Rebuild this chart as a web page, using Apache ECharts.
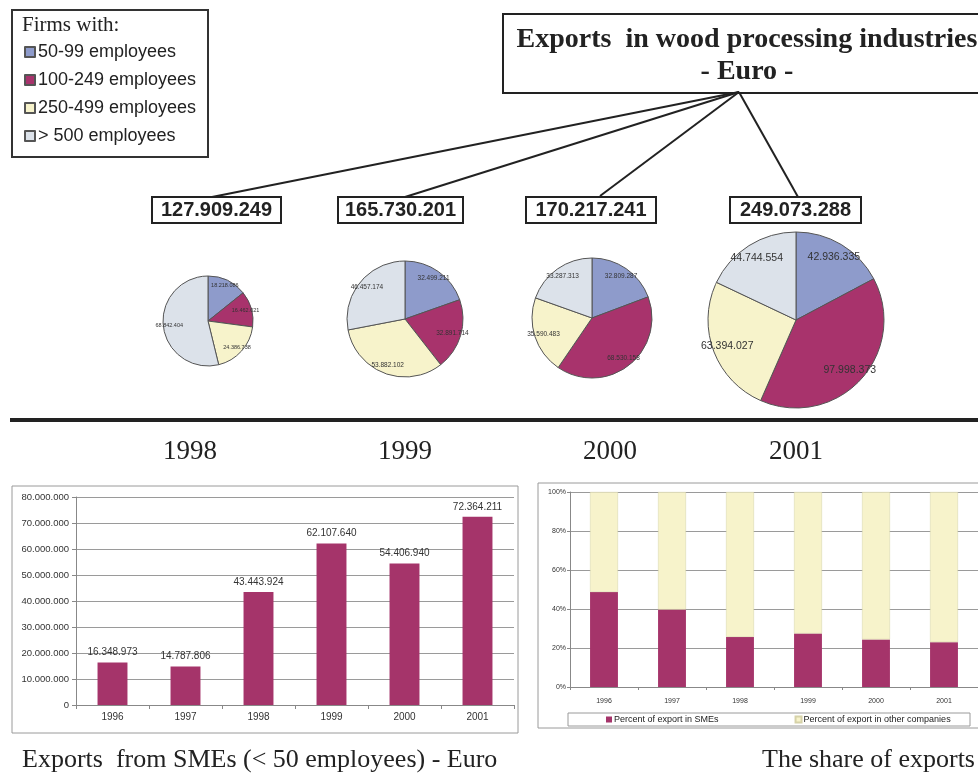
<!DOCTYPE html>
<html>
<head>
<meta charset="utf-8">
<script src="https://cdn.jsdelivr.net/npm/echarts@6/dist/echarts.min.js"></script>
<style>
html,body{margin:0;padding:0;background:#fff;}
#chart{width:978px;height:775px;}
</style>
</head>
<body>
<div id="chart"></div>
<script>
// ---------- data ----------
const sizeClasses = ['50-99 employees', '100-249 employees', '250-499 employees', '> 500 employees'];
const pieYears = ['1998', '1999', '2000', '2001'];
const pieTotals = ['127.909.249', '165.730.201', '170.217.241', '249.073.288'];
const pie1998 = [18218086, 16462021, 24386738, 68842404];
const pie1999 = [32499211, 32891714, 53882102, 46457174];
const pie2000 = [32809287, 68530158, 35590483, 33287313];
const pie2001 = [42936335, 97998373, 63394027, 44744554];

const smeYears = ['1996', '1997', '1998', '1999', '2000', '2001'];
const smeExports = [16348973, 14787806, 43443924, 62107640, 54406940, 72364211];
const shareSME = [48.7, 39.7, 25.7, 27.4, 24.4, 23.0];
const shareOther = [51.3, 60.3, 74.3, 72.6, 75.6, 77.0];
const shareNames = ['Percent of export in SMEs', 'Percent of export in other companies'];

const titleLines = ['Exports  in wood processing industries', '- Euro -'];
const legendTitle = 'Firms with:';
const captionLeft = 'Exports  from SMEs (< 50 employees) - Euro';
const captionRight = 'The share of exports';

// ---------- style ----------
const SERIF = "'Liberation Serif','Times New Roman',serif";
const SANS = "'Liberation Sans',Arial,sans-serif";
const pieColors = ['#8e9bcb', '#a8336c', '#f7f3cb', '#dce2ea'];
const barColor = '#a5346a';
const yellow = '#f7f3cb';

function fmt(v) { return String(v).replace(/\B(?=(\d{3})+(?!\d))/g, '.'); }

const pieLayout = [
  { c: [208, 321], r: 45, fs: 5.5 },
  { c: [405, 319], r: 58, fs: 6.5 },
  { c: [592, 318], r: 60, fs: 6.5 },
  { c: [796, 320], r: 88, fs: 10.5 }
];
const pieData = [pie1998, pie1999, pie2000, pie2001];

const series = [];
pieData.forEach(function (vals, i) {
  const L = pieLayout[i];
  const data = vals.map(function (v, k) { return { name: sizeClasses[k], value: v }; });
  series.push({
    type: 'pie', center: L.c, radius: [0, L.r], startAngle: 90, clockwise: true,
    avoidLabelOverlap: false, silent: true,
    color: pieColors,
    itemStyle: { borderColor: '#555', borderWidth: 1 },
    label: { show: false }, labelLine: { show: false },
    data: data
  });
  series.push({
    type: 'pie', center: L.c, radius: [L.r * 0.6, L.r], startAngle: 90, clockwise: true,
    avoidLabelOverlap: false, silent: true, z: 5,
    itemStyle: { color: 'rgba(0,0,0,0)', borderWidth: 0 },
    label: { show: true, position: 'inside', color: '#333', fontSize: L.fs, fontFamily: SANS,
      formatter: function (p) { return fmt(p.value); } },
    labelLine: { show: false },
    data: data
  });
});

series.push({
  name: 'Exports from SMEs', type: 'bar', xAxisIndex: 0, yAxisIndex: 0,
  data: smeExports, barWidth: '41%',
  itemStyle: { color: barColor },
  label: { show: true, position: 'top', distance: 5, color: '#333', fontSize: 10, fontFamily: SANS,
    formatter: function (p) { return fmt(p.value); } }
});
series.push({
  name: shareNames[0], type: 'bar', stack: 'share', xAxisIndex: 1, yAxisIndex: 1,
  data: shareSME, barWidth: '41%', itemStyle: { color: barColor }
});
series.push({
  name: shareNames[1], type: 'bar', stack: 'share', xAxisIndex: 1, yAxisIndex: 1,
  data: shareOther, barWidth: '41%', itemStyle: { color: yellow, borderColor: '#d6d2a8', borderWidth: 0.5 }
});

const lineStyle = { stroke: '#222', lineWidth: 2 };
const graphics = [
  // legend box
  { type: 'rect', shape: { x: 12, y: 10, width: 196, height: 147 }, style: { fill: 'none', stroke: '#333', lineWidth: 2 } },
  { type: 'text', style: { text: legendTitle, x: 22, y: 25, font: '21px ' + SERIF, fill: '#222', textVerticalAlign: 'middle' } },
  // title box
  { type: 'rect', shape: { x: 503, y: 14, width: 520, height: 79 }, style: { fill: '#fff', stroke: '#222', lineWidth: 2 } },
  { type: 'text', style: { text: titleLines[0], x: 747, y: 40, font: 'bold 28px ' + SERIF, fill: '#222', textAlign: 'center', textVerticalAlign: 'middle' } },
  { type: 'text', style: { text: titleLines[1], x: 747, y: 72, font: 'bold 28px ' + SERIF, fill: '#222', textAlign: 'center', textVerticalAlign: 'middle' } },
  // connector lines
  { type: 'line', shape: { x1: 739, y1: 92, x2: 212, y2: 197 }, style: lineStyle },
  { type: 'line', shape: { x1: 739, y1: 92, x2: 405, y2: 197 }, style: lineStyle },
  { type: 'line', shape: { x1: 739, y1: 92, x2: 600, y2: 196 }, style: lineStyle },
  { type: 'line', shape: { x1: 739, y1: 92, x2: 798, y2: 197 }, style: lineStyle },
  // thick separator
  { type: 'line', shape: { x1: 10, y1: 420, x2: 978, y2: 420 }, style: { stroke: '#222', lineWidth: 4 } },
  // bottom chart boxes
  { type: 'rect', shape: { x: 12, y: 486, width: 506, height: 247 }, style: { fill: 'none', stroke: '#9a9a9a', lineWidth: 1 } },
  { type: 'rect', shape: { x: 538, y: 483, width: 460, height: 245 }, style: { fill: 'none', stroke: '#9a9a9a', lineWidth: 1 } },
  { type: 'rect', shape: { x: 568, y: 713, width: 402, height: 13 }, style: { fill: 'none', stroke: '#9a9a9a', lineWidth: 1 } },
  // captions
  { type: 'text', style: { text: captionLeft, x: 22, y: 760, font: '26px ' + SERIF, fill: '#222', textVerticalAlign: 'middle' } },
  { type: 'text', style: { text: captionRight, x: 762, y: 760, font: '26px ' + SERIF, fill: '#222', textVerticalAlign: 'middle' } }
];
const boxX = [[152, 281], [338, 463], [526, 656], [730, 861]];
const yearX = [190, 405, 610, 796];
pieTotals.forEach(function (t, i) {
  const b = boxX[i];
  graphics.push({ type: 'rect', z: 10, shape: { x: b[0], y: 197, width: b[1] - b[0], height: 26 }, style: { fill: '#fff', stroke: '#222', lineWidth: 2 } });
  graphics.push({ type: 'text', z: 11, style: { text: t, x: (b[0] + b[1]) / 2, y: 210.5, font: 'bold 20px ' + SANS, fill: '#222', textAlign: 'center', textVerticalAlign: 'middle' } });
  graphics.push({ type: 'text', style: { text: pieYears[i], x: yearX[i], y: 452, font: '27px ' + SERIF, fill: '#222', textAlign: 'center', textVerticalAlign: 'middle' } });
});

const gridAxisLine = { lineStyle: { color: '#888', width: 1 } };
const option = {
  animation: false,
  backgroundColor: '#fff',
  graphic: graphics,
  legend: [
    {
      data: sizeClasses, orient: 'vertical', left: 24, top: 43, itemWidth: 10, itemHeight: 10, itemGap: 10,
      icon: 'rect', selectedMode: false, padding: 0,
      textStyle: { fontSize: 18, fontFamily: SANS, color: '#222', padding: [0, 0, 0, -2] }
    },
    {
      data: shareNames, orient: 'horizontal', left: 606, top: 715, itemWidth: 6, itemHeight: 6, itemGap: 76,
      icon: 'rect', selectedMode: false, padding: 0,
      textStyle: { fontSize: 9, fontFamily: SANS, color: '#222', padding: [0, 0, 0, -3] }
    }
  ],
  grid: [
    { left: 76, top: 497, width: 438, height: 208 },
    { left: 570, top: 492, width: 408, height: 195 }
  ],
  xAxis: [
    { type: 'category', gridIndex: 0, data: smeYears,
      axisLine: gridAxisLine, axisTick: { show: true, length: 4, lineStyle: { color: '#888' } },
      axisLabel: { fontSize: 10, color: '#333', fontFamily: SANS, margin: 7 } },
    { type: 'category', gridIndex: 1, data: smeYears,
      axisLine: gridAxisLine, axisTick: { show: true, length: 3, lineStyle: { color: '#888' } },
      axisLabel: { fontSize: 7, color: '#333', fontFamily: SANS, margin: 11 } }
  ],
  yAxis: [
    { type: 'value', gridIndex: 0, min: 0, max: 80000000, interval: 10000000,
      axisLine: { show: true, lineStyle: { color: '#888' } }, axisTick: { show: true, length: 4, lineStyle: { color: '#888' } },
      splitLine: { lineStyle: { color: '#9a9a9a', width: 1 } },
      axisLabel: { fontSize: 9.5, color: '#333', fontFamily: SANS, margin: 7, formatter: function (v) { return fmt(v); } } },
    { type: 'value', gridIndex: 1, min: 0, max: 100, interval: 20,
      axisLine: { show: true, lineStyle: { color: '#888' } }, axisTick: { show: true, length: 3, lineStyle: { color: '#888' } },
      splitLine: { lineStyle: { color: '#9a9a9a', width: 1 } },
      axisLabel: { fontSize: 7, color: '#333', fontFamily: SANS, margin: 4, formatter: '{value}%' } }
  ],
  series: series
};
const chart = echarts.init(document.getElementById('chart'), null, { renderer: 'canvas' });
chart.setOption(option);
</script>
</body>
</html>
